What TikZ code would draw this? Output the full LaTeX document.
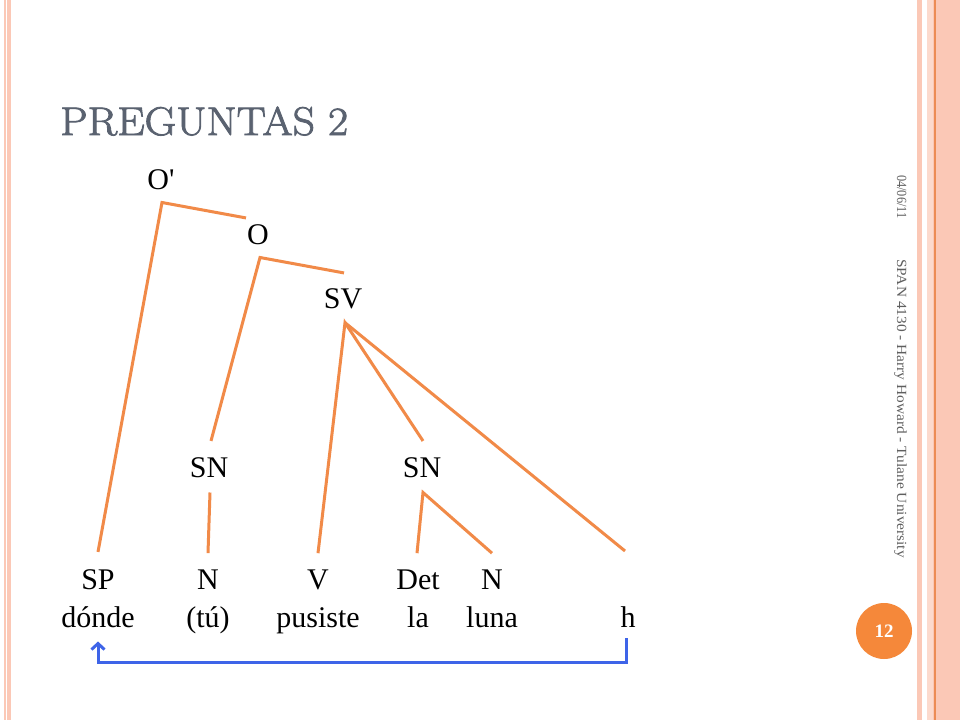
\documentclass[tikz,border=0pt]{standalone}
\usepackage{fontspec}
\newfontfamily\treefont{Liberation Serif}
\newfontfamily\titlefont[FakeBold=2]{Latin Modern Roman}
\usetikzlibrary{arrows.meta,calc}
\definecolor{branchorange}{RGB}{241,138,72}
\definecolor{moveblue}{RGB}{62,100,232}
\definecolor{titlegray}{RGB}{90,98,112}
\definecolor{footgray}{RGB}{95,95,95}
\definecolor{edgepink}{RGB}{251,200,182}
\definecolor{edgelight}{RGB}{252,218,205}
\definecolor{edgeorange}{RGB}{236,140,85}
\definecolor{badgeorange}{RGB}{245,136,58}
\tikzset{cat/.style = {inner sep=0pt, anchor=base, font=\treefont\fontsize{30}{36}\selectfont},
         branch/.style = {draw=branchorange, line width=3pt},
         move/.style = {draw=moveblue, line width=3pt, -{Straight Barb[length=6pt,width=13pt]}},
         footer/.style = {anchor=base west, rotate=-90, inner sep=0pt, text=footgray, font=\treefont\fontsize{14}{16}\selectfont}}

\begin{document}
\begin{tikzpicture}[x=1pt,y=-1pt]
\fill[white] (0,0) rectangle (960,720);
\useasboundingbox (0,0) rectangle (960,720);
% slide edges
\fill[edgepink] (4,0) rectangle (11,720);
\fill[white] (6,0) rectangle (7.3,720);
\fill[edgepink] (917,0) rectangle (922,720);
\fill[edgepink] (927,0) rectangle (960,720);
\fill[edgelight] (927,0) rectangle (933,720);
\draw[edgeorange, line width=1.5pt] (935,0) -- (935,720);

\node[anchor=base west, inner sep=0pt, text=titlegray, xscale=1.09, font=\titlefont\fontsize{40}{40}\selectfont] (title) at (60,135) {PREGUNTAS 2};

% categories
\node[cat] (Op) at (161,189) {O\textquotesingle};
\node[cat] (O) at (258,244) {O};
\node[cat] (SV) at (343,308) {SV};
\node[cat] (SNa) at (209,477) {SN};
\node[cat] (SNb) at (422,477) {SN};
\node[cat] (SP) at (98,589) {SP};
\node[cat] (Na) at (208,589) {N};
\node[cat] (V) at (318,589) {V};
\node[cat] (Det) at (418,589) {Det};
\node[cat] (Nb) at (492,589) {N};
% words
\node[cat] (dSP) at (98,627) {dónde};
\node[cat] (wNa) at (208,627) {(tú)};
\node[cat] (wV) at (318,627) {pusiste};
\node[cat] (wDet) at (418,627) {la};
\node[cat] (wNb) at (492,627) {luna};
\node[cat] (h) at (628,627) {h};

% branches
\draw[branch] ([shift={(0,-17)}]SP.north) -- ([shift={(1,13)}]Op.south) -- ([shift={(-12,-6)}]O.north);
\draw[branch] ([shift={(2,-16)}]SNa.north) -- ([shift={(2,13)}]O.south) -- ([shift={(1,-15)}]SV.north);
\draw[branch] ([shift={(1,15)}]SNa.south) -- ([shift={(0,-16)}]Na.north);
\draw[branch] ([shift={(0,-16)}]V.north) -- ([shift={(2,14)}]SV.south) -- ([shift={(1,-16)}]SNb.north);
\draw[branch] ([shift={(2,14)}]SV.south) -- ([shift={(-3,-55)}]h.north);
\draw[branch] ([shift={(-1,-16)}]Det.north) -- ([shift={(1,15)}]SNb.south) -- ([shift={(0,-16)}]Nb.north);

% movement
\draw[move] ([shift={(-2,11)}]h.south) -- ++(0,24) -| ([shift={(0,14)}]dSP.south);

% footer
\node[footer, xscale=0.88] (date) at (897,175) {04/06/11};
\node[footer, xscale=1.1] (foot) at (897,259) {SPAN 4130 - Harry Howard - Tulane University};
\node[circle, fill=badgeorange, minimum size=56pt, inner sep=0pt, text=white, font=\treefont\bfseries\fontsize{19}{19}\selectfont] (page) at (884,631) {12};
\end{tikzpicture}
\end{document}
